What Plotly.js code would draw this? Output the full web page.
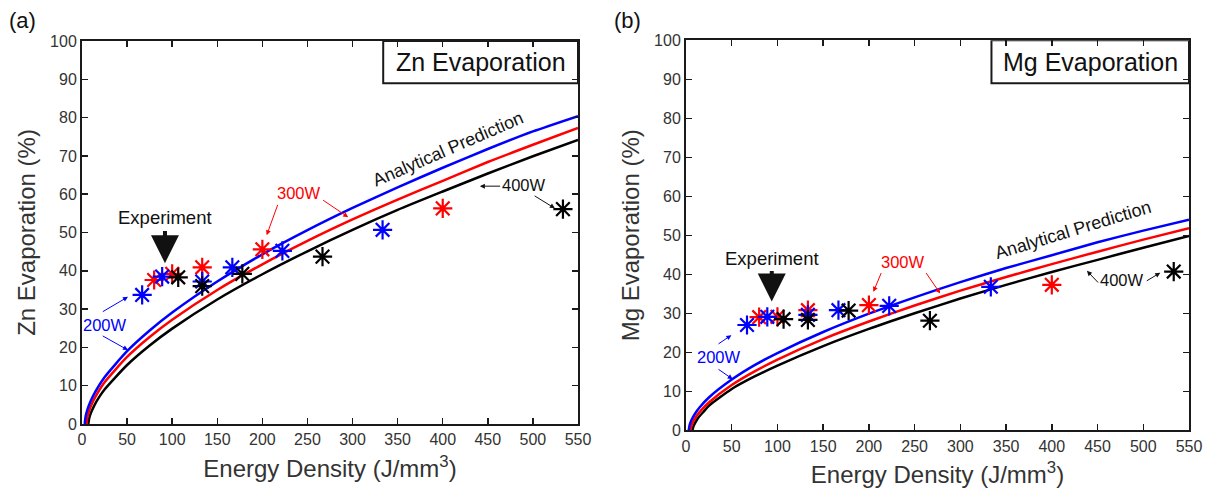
<!DOCTYPE html>
<html>
<head>
<meta charset="utf-8">
<script src="https://cdn.plot.ly/plotly-3.0.1.min.js"></script>
<style>
  html, body { margin: 0; padding: 0; background: #ffffff; }
  #chart { width: 1211px; height: 493px; }
</style>
</head>
<body>
<div id="chart"></div>
<script>
// ---- Panel (a): Zn evaporation ----
// Analytical prediction curves (energy density J/mm^3 -> evaporation %)
const znBlueX  = [3, 4, 6, 10, 15, 25, 50, 75, 100, 150, 200, 250, 300, 350, 400, 450, 500, 550];
const znBlueY  = [0, 1.96, 3.75, 6.18, 8.5, 12.2, 19.0, 24.4, 29.1, 37.2, 44.3, 50.6, 56.4, 61.8, 66.9, 71.8, 76.4, 80.4];
const znRedX   = [5, 6, 8, 12, 17, 25, 50, 75, 100, 150, 200, 250, 300, 350, 400, 450, 500, 550];
const znRedY   = [0, 1.8, 3.5, 5.8, 8.0, 10.9, 17.5, 22.7, 27.2, 35.0, 41.7, 47.8, 53.4, 58.6, 63.5, 68.4, 72.9, 77.3];
const znBlackX = [7, 8, 10, 14, 19, 25, 50, 75, 100, 150, 200, 250, 300, 350, 400, 450, 500, 550];
const znBlackY = [0, 1.5, 2.96, 5.0, 7.0, 9.0, 15.4, 20.5, 24.9, 32.5, 39.1, 45.1, 50.7, 55.9, 60.7, 65.4, 69.9, 74.2];

// Experimental results
const zn200X = [66.7, 88.9, 133.3, 166.7, 222.2, 333.3];
const zn200Y = [33.7, 38.5, 37.2, 40.9, 45.2, 50.7];
const zn300X = [80, 100, 133.3, 200, 400];
const zn300Y = [37.6, 39.2, 40.9, 45.6, 56.3];
const zn400X = [106.7, 133.3, 177.8, 266.7, 533.3];
const zn400Y = [38.3, 36.0, 39.2, 43.7, 56.1];

// ---- Panel (b): Mg evaporation ----
const mgBlueX  = [3, 4, 6, 10, 15, 25, 50, 75, 100, 150, 200, 250, 300, 350, 400, 450, 500, 550];
const mgBlueY  = [0, 1.4, 2.64, 4.32, 5.9, 8.4, 13.0, 16.7, 19.8, 25.2, 29.9, 34.1, 38.0, 41.6, 44.9, 48.2, 51.2, 54.0];
const mgRedX   = [5, 6, 8, 12, 17, 25, 50, 75, 100, 150, 200, 250, 300, 350, 400, 450, 500, 550];
const mgRedY   = [0, 1.18, 2.28, 3.8, 5.24, 7.12, 11.6, 15.1, 18.15, 23.4, 27.9, 32.0, 35.8, 39.3, 42.6, 45.8, 48.9, 51.8];
const mgBlackX = [7, 8, 10, 14, 19, 25, 50, 75, 100, 150, 200, 250, 300, 350, 400, 450, 500, 550];
const mgBlackY = [0, 0.9, 1.9, 3.4, 4.7, 6.3, 10.6, 13.8, 16.6, 21.6, 26.0, 30.0, 33.8, 37.3, 40.6, 43.7, 46.8, 49.8];

const mg200X = [66.7, 88.9, 133.3, 166.7, 222.2, 333.3];
const mg200Y = [27.0, 29.1, 29.6, 30.8, 31.9, 36.8];
const mg300X = [80, 100, 133.3, 200, 400];
const mg300Y = [29.0, 29.1, 30.8, 32.1, 37.3];
const mg400X = [106.7, 133.3, 177.8, 266.7, 533.3];
const mg400Y = [28.5, 28.3, 30.7, 28.1, 40.7];

const xTicks = [0, 50, 100, 150, 200, 250, 300, 350, 400, 450, 500, 550];
const yTicks = [0, 10, 20, 30, 40, 50, 60, 70, 80, 90, 100];

const BLUE = '#0000ff', RED = '#ff0000', BLACK = '#000000';
const FONT = 'Liberation Sans, Arial, sans-serif';

function curve(x, y, color, xa, ya) {
  return { x, y, type: 'scatter', mode: 'lines', xaxis: xa, yaxis: ya,
           line: { color, width: 2.5, shape: 'spline', smoothing: 0.6 }, hoverinfo: 'skip' };
}
function pts(x, y, color, xa, ya) {
  return { x, y, type: 'scatter', mode: 'markers', xaxis: xa, yaxis: ya,
           marker: { symbol: 'asterisk-open', size: 16, color, line: { color, width: 2.2 } } };
}

const data = [
  curve(znBlackX, znBlackY, BLACK, 'x', 'y'),
  curve(znRedX, znRedY, RED, 'x', 'y'),
  curve(znBlueX, znBlueY, BLUE, 'x', 'y'),
  pts(zn300X, zn300Y, RED, 'x', 'y'),
  pts(zn200X, zn200Y, BLUE, 'x', 'y'),
  pts(zn400X, zn400Y, BLACK, 'x', 'y'),
  curve(mgBlackX, mgBlackY, BLACK, 'x2', 'y2'),
  curve(mgRedX, mgRedY, RED, 'x2', 'y2'),
  curve(mgBlueX, mgBlueY, BLUE, 'x2', 'y2'),
  pts(mg300X, mg300Y, RED, 'x2', 'y2'),
  pts(mg200X, mg200Y, BLUE, 'x2', 'y2'),
  pts(mg400X, mg400Y, BLACK, 'x2', 'y2')
];

function xAxis(domain, anchor) {
  return {
    domain, anchor, range: [0, 550], tickvals: xTicks, ticktext: xTicks.map(String),
    showline: true, mirror: 'ticks', linecolor: '#1a1a1a', linewidth: 2,
    ticks: 'inside', ticklen: 6, tickwidth: 1.5, tickcolor: '#1a1a1a',
    showgrid: false, zeroline: false,
    tickfont: { family: FONT, size: 16, color: '#333333' },
    title: { text: 'Energy Density (J/mm<sup>3</sup>)', font: { family: FONT, size: 24, color: '#333333' }, standoff: 13 }
  };
}
function yAxis(domain, anchor, label) {
  return {
    domain, anchor, range: [0, 100], tickvals: yTicks, ticktext: yTicks.map(String),
    showline: true, mirror: 'ticks', linecolor: '#1a1a1a', linewidth: 2,
    ticks: 'inside', ticklen: 6, tickwidth: 1.5, tickcolor: '#1a1a1a',
    showgrid: false, zeroline: false,
    tickfont: { family: FONT, size: 16, color: '#333333' },
    title: { text: label, font: { family: FONT, size: 24, color: '#333333' }, standoff: 8 }
  };
}

function txt(x, y, text, color, size, xr, yr, extra) {
  return Object.assign({ x, y, xref: xr, yref: yr, text, showarrow: false,
    font: { family: FONT, size, color } }, extra || {});
}
function arrow(x, y, ax, ay, color, xr, yr, w, hs) {
  return { x, y, ax, ay, xref: xr, yref: yr, axref: xr, ayref: yr, text: '',
    showarrow: true, arrowhead: 2, arrowsize: hs || 1, arrowwidth: w || 1, arrowcolor: color, standoff: 0 };
}

const annotations = [
  // panel letters
  txt(7 / 1211, 1 - 20 / 493, '(a)', '#111111', 22, 'paper', 'paper', { xanchor: 'left', yanchor: 'middle' }),
  txt(612 / 1211, 1 - 20 / 493, '(b)', '#111111', 22, 'paper', 'paper', { xanchor: 'left', yanchor: 'middle' }),
  // boxed titles
  txt(442, 94.5, 'Zn Evaporation', '#111111', 25, 'x', 'y'),
  txt(442, 94.5, 'Mg Evaporation', '#111111', 25, 'x2', 'y2'),

  // panel (a) labels
  txt(406, 71.8, 'Analytical Prediction', '#111111', 18, 'x', 'y', { textangle: -23.5 }),
  txt(92, 53.9, 'Experiment', '#111111', 18.5, 'x', 'y'),
  arrow(92, 42.0, 92, 50.8, '#111111', 'x', 'y', 4, 1.4),
  txt(241, 60.2, '300W', RED, 16.5, 'x', 'y'),
  arrow(204.8, 49.3, 217.6, 57.6, RED, 'x', 'y'),
  arrow(295.2, 54.0, 265.7, 58.7, RED, 'x', 'y'),
  txt(25.8, 25.8, '200W', BLUE, 16.5, 'x', 'y'),
  arrow(51, 33.2, 21.4, 29.1, BLUE, 'x', 'y'),
  arrow(51, 19.3, 21.4, 23.2, BLUE, 'x', 'y'),
  txt(490.4, 62.4, '400W', '#111111', 16.5, 'x', 'y'),
  arrow(441.2, 62.1, 465.3, 62.1, '#111111', 'x', 'y'),
  arrow(524.4, 56.3, 500.3, 59.8, '#111111', 'x', 'y'),

  // panel (b) labels
  txt(423, 51.4, 'Analytical Prediction', '#111111', 18, 'x2', 'y2', { textangle: -17 }),
  txt(93.8, 44.1, 'Experiment', '#111111', 18.5, 'x2', 'y2'),
  arrow(93.8, 33.0, 93.8, 41.2, '#111111', 'x2', 'y2', 4, 1.4),
  txt(237.1, 43.2, '300W', RED, 16.5, 'x2', 'y2'),
  arrow(204.9, 35.5, 214.1, 40.7, RED, 'x2', 'y2'),
  arrow(277.9, 35.1, 261.5, 40.7, RED, 'x2', 'y2'),
  txt(36.4, 18.7, '200W', BLUE, 16.5, 'x2', 'y2'),
  arrow(49.6, 24.4, 33.9, 21.9, BLUE, 'x2', 'y2'),
  arrow(51.1, 13.1, 33.9, 15.9, BLUE, 'x2', 'y2'),
  txt(476.7, 38.5, '400W', '#111111', 16.5, 'x2', 'y2'),
  arrow(438.4, 40.9, 452.2, 37.5, '#111111', 'x2', 'y2'),
  arrow(518.6, 40.4, 502.2, 38.1, '#111111', 'x2', 'y2')
];

const shapes = [
  { type: 'rect', xref: 'x', yref: 'y', x0: 334, x1: 550, y0: 89, y1: 100,
    line: { color: '#1a1a1a', width: 2 }, fillcolor: 'rgba(0,0,0,0)' },
  { type: 'rect', xref: 'x2', yref: 'y2', x0: 334, x1: 550, y0: 89, y1: 100,
    line: { color: '#1a1a1a', width: 2 }, fillcolor: 'rgba(0,0,0,0)' }
];

const layout = {
  width: 1211, height: 493,
  margin: { l: 0, r: 0, t: 0, b: 0 },
  paper_bgcolor: '#ffffff', plot_bgcolor: '#ffffff',
  showlegend: false,
  font: { family: FONT },
  xaxis: xAxis([82 / 1211, 578 / 1211], 'y'),
  yaxis: yAxis([1 - 424 / 493, 1 - 41 / 493], 'x', 'Zn Evaporation (%)'),
  xaxis2: xAxis([686 / 1211, 1189 / 1211], 'y2'),
  yaxis2: yAxis([1 - 430.3 / 493, 1 - 40.3 / 493], 'x2', 'Mg Evaporation (%)'),
  annotations, shapes
};

Plotly.newPlot('chart', data, layout, { displayModeBar: false, staticPlot: true });
</script>
</body>
</html>
